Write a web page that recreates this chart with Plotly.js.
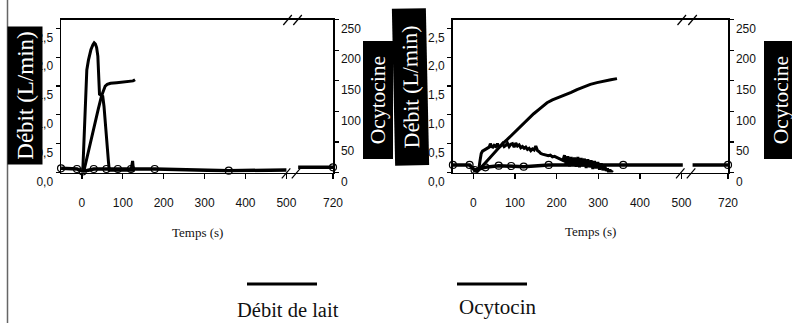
<!DOCTYPE html>
<html>
<head>
<meta charset="utf-8">
<script src="https://cdn.plot.ly/plotly-3.0.1.min.js"></script>
<style>html,body{margin:0;padding:0;background:#fff}#chart{width:792px;height:323px}</style>
</head>
<body>
<div id="chart"></div>
<script>
// ---------- DATA ----------
// Panel 1 (left)
const flow1_t = [2, 4, 7, 10, 12, 16, 22, 27, 30, 33, 36, 39, 41, 43, 47, 51, 54, 57, 60, 62, 64, 65, 67, 80, 100, 120, 124, 126, 129];
const flow1_v = [0, 0.4, 1.1, 1.6, 1.78, 1.95, 2.13, 2.22, 2.25, 2.23, 2.17, 2.02, 1.7, 1.36, 1.34, 1.32, 1.15, 0.85, 0.5, 0.3, 0.2, 0.18, 0.04, 0.04, 0.04, 0.04, 0.2, 0.04, 0.04];
const cum1_t = [4, 10, 20, 30, 40, 48, 53, 57, 62, 70, 85, 100, 115, 125, 130];
const cum1_v = [0, 0.19, 0.5, 0.8, 1.1, 1.33, 1.44, 1.5, 1.53, 1.55, 1.56, 1.57, 1.58, 1.59, 1.61];
const oxy1_t = [-51, -12, 2, 29, 60, 88, 120, 178, 359];
const oxy1_v = [6.9, 5.7, 1.6, 5.7, 5.7, 5.7, 5.7, 5.7, 3.0];
const oxy1_end_t = [500];
const oxy1_end_v = [4.0];
const oxy1_late_t = [635, 720];
const oxy1_late_v = [8.5, 8.5];

// Panel 2 (right)
const flow2_t = [0, 5, 9, 13, 16, 19, 22, 26, 30, 34, 38, 41, 44, 47, 50, 54, 58, 62, 66, 70, 74, 78, 82, 86, 90, 94, 98, 102, 106, 110, 114, 118, 122, 126, 130, 134, 138, 142, 146, 150, 154, 158, 162, 166, 170, 175, 180, 185, 190, 195, 200, 205, 210, 215, 219, 223, 227, 231, 235, 239, 243, 247, 251, 255, 259, 263, 267, 271, 275, 279, 283, 287, 291, 295, 299, 303, 307, 311, 315, 319, 322, 325, 328, 331, 334];
const flow2_v = [0.02, 0.0, 0.0, 0.05, 0.2, 0.33, 0.37, 0.39, 0.41, 0.42, 0.44, 0.5, 0.45, 0.44, 0.47, 0.45, 0.5, 0.44, 0.46, 0.5, 0.45, 0.47, 0.51, 0.45, 0.49, 0.5, 0.44, 0.51, 0.46, 0.48, 0.43, 0.45, 0.42, 0.44, 0.4, 0.42, 0.38, 0.41, 0.39, 0.46, 0.38, 0.36, 0.33, 0.32, 0.31, 0.3, 0.29, 0.3, 0.27, 0.28, 0.26, 0.24, 0.23, 0.21, 0.3, 0.12, 0.28, 0.11, 0.27, 0.12, 0.26, 0.1, 0.27, 0.09, 0.25, 0.11, 0.24, 0.08, 0.23, 0.09, 0.21, 0.06, 0.2, 0.07, 0.18, 0.05, 0.16, 0.04, 0.13, 0.03, 0.07, 0.0, 0.05, 0.0, 0.04];
const cum2_t = [5, 15, 29, 40, 49, 60, 70, 81, 95, 113, 130, 145, 160, 177, 190, 205, 217, 235, 249, 265, 281, 297, 313, 330, 345];
const cum2_v = [0, 0.06, 0.17, 0.26, 0.34, 0.42, 0.5, 0.57, 0.67, 0.8, 0.91, 1.02, 1.11, 1.21, 1.26, 1.3, 1.33, 1.39, 1.44, 1.49, 1.53, 1.56, 1.59, 1.61, 1.63];
const oxy2_t = [-49, -9, 3, 29, 61, 91, 121, 181, 360];
const oxy2_v = [12.3, 12.3, 4.1, 8.5, 11.1, 10.6, 9.5, 12.3, 12.3];
const oxy2_end_t = [503];
const oxy2_end_v = [12.3];
const oxy2_late_t = [635, 720];
const oxy2_late_v = [12.3, 12.3];

// Ticks / labels
const timeTicks = [0, 100, 200, 300, 400, 500];
const lateTicks = [720];
const flowTicks = [0, 0.5, 1.0, 1.5, 2.0, 2.5];
const oxyTicks = [0, 50, 100, 150, 200, 250];
const flowTitle = 'Débit (L/min)';
const oxyTitle = 'Ocytocine';
const timeTitle = 'Temps (s)';
const legendNames = ['Débit de lait', 'Ocytocin'];

// ---------- LAYOUT HELPERS ----------
const W = 792, H = 323;
const px = v => v / W;
const py = v => 1 - v / H;
const yDom = [py(172.5), py(19.5)];
const tickFont = {family: 'Liberation Sans Narrow, Arial Narrow, Liberation Sans, Arial', size: 12, color: '#111'};
const serif = 'Liberation Serif, Times New Roman, serif';

const lineStyle = {color: '#000', width: 3};
const oxyLine = {color: '#000', width: 3.5};
const circ = {symbol: 'circle-open', size: 7, color: '#000', line: {width: 1.2, color: '#000'}};

const traces = [
  // panel 1
  {x: cum1_t, y: cum1_v, xaxis: 'x', yaxis: 'y', mode: 'lines', line: lineStyle},
  {x: flow1_t, y: flow1_v, xaxis: 'x', yaxis: 'y', mode: 'lines', line: lineStyle},
  {x: oxy1_t.concat(oxy1_end_t), y: oxy1_v.concat(oxy1_end_v), xaxis: 'x', yaxis: 'y2', mode: 'lines', line: oxyLine},
  {x: oxy1_t, y: oxy1_v, xaxis: 'x', yaxis: 'y2', mode: 'markers', marker: circ, cliponaxis: false},
  {x: oxy1_late_t, y: oxy1_late_v, xaxis: 'x2', yaxis: 'y2', mode: 'lines', line: oxyLine},
  {x: oxy1_late_t.slice(-1), y: oxy1_late_v.slice(-1), xaxis: 'x2', yaxis: 'y2', mode: 'markers', marker: circ, cliponaxis: false},
  // panel 2
  {x: cum2_t, y: cum2_v, xaxis: 'x3', yaxis: 'y3', mode: 'lines', line: lineStyle},
  {x: flow2_t, y: flow2_v, xaxis: 'x3', yaxis: 'y3', mode: 'lines', line: lineStyle},
  {x: oxy2_t.concat(oxy2_end_t), y: oxy2_v.concat(oxy2_end_v), xaxis: 'x3', yaxis: 'y4', mode: 'lines', line: oxyLine},
  {x: oxy2_t, y: oxy2_v, xaxis: 'x3', yaxis: 'y4', mode: 'markers', marker: circ, cliponaxis: false},
  {x: oxy2_late_t, y: oxy2_late_v, xaxis: 'x4', yaxis: 'y4', mode: 'lines', line: oxyLine},
  {x: oxy2_late_t.slice(-1), y: oxy2_late_v.slice(-1), xaxis: 'x4', yaxis: 'y4', mode: 'markers', marker: circ, cliponaxis: false}
].map(t => Object.assign({hoverinfo: 'skip', showlegend: false, type: 'scatter'}, t));

const xCommon = {showgrid: false, zeroline: false, showline: true, mirror: true, linecolor: '#000', linewidth: 1.5,
  ticks: 'outside', ticklen: 5, tickwidth: 1.2, tickcolor: '#000', tickfont: tickFont, ticklabelstandoff: 14, ticklabelshift: 1.5, fixedrange: true};
const yCommon = {showgrid: false, zeroline: false, showline: true, linecolor: '#000', linewidth: 1.5,
  ticks: 'outside', ticklen: 4, tickwidth: 1.2, tickcolor: '#000', tickfont: tickFont, ticklabelshift: 9, domain: yDom, fixedrange: true};

const layout = {
  width: W, height: H,
  margin: {l: 0, r: 0, t: 0, b: 0, pad: 0},
  paper_bgcolor: '#fff', plot_bgcolor: 'rgba(0,0,0,0)',
  separators: ', ',
  showlegend: false,
  xaxis: Object.assign({}, xCommon, {domain: [px(61), px(292.5)], range: [-51.1, 514.9], anchor: 'y', tickvals: timeTicks}),
  xaxis2: Object.assign({}, xCommon, {domain: [px(292.5), px(333)], range: [621.2, 720], anchor: 'y', tickvals: lateTicks, ticklabelshift: 0}),
  xaxis3: Object.assign({}, xCommon, {domain: [px(452.7), px(687)], range: [-49.5, 513.1], anchor: 'y3', tickvals: timeTicks}),
  xaxis4: Object.assign({}, xCommon, {domain: [px(687), px(728)], range: [621.6, 720], anchor: 'y3', tickvals: lateTicks, ticklabelshift: 0}),
  yaxis: Object.assign({}, yCommon, {range: [0, 2.656], anchor: 'x', side: 'left', tickvals: flowTicks, tickformat: '.1f'}),
  yaxis2: Object.assign({}, yCommon, {range: [0, 250], anchor: 'x2', side: 'right', tickvals: oxyTicks}),
  yaxis3: Object.assign({}, yCommon, {range: [0, 2.656], anchor: 'x3', side: 'left', tickvals: flowTicks, tickformat: '.1f'}),
  yaxis4: Object.assign({}, yCommon, {range: [0, 250], anchor: 'x4', side: 'right', tickvals: oxyTicks}),
  shapes: [],
  annotations: []
};

// axis-break marks "//"
function breakMarks(xA, xB) {
  [[xA, xA + 8.5], [xB, xB + 8.5]].forEach(([a, b]) => {
    layout.shapes.push({type: 'line', xref: 'paper', yref: 'paper', x0: px(a), x1: px(b), y0: py(25), y1: py(15), line: {color: '#000', width: 1.2}});
    layout.shapes.push({type: 'line', xref: 'paper', yref: 'paper', x0: px(a - 1.5), x1: px(b - 1.5), y0: py(178.3), y1: py(168.3), line: {color: '#000', width: 1.2}});
  });
}
breakMarks(283.3, 293.3);
breakMarks(677.5, 688.3);

// left page rule
layout.shapes.push({type: 'line', xref: 'paper', yref: 'paper', x0: px(7.5), x1: px(7.5), y0: 0, y1: 1, line: {color: '#666', width: 1.5}});
// legend lines
layout.shapes.push({type: 'line', xref: 'paper', yref: 'paper', x0: px(247), x1: px(317), y0: py(284), y1: py(284), line: {color: '#000', width: 3}});
layout.shapes.push({type: 'line', xref: 'paper', yref: 'paper', x0: px(457), x1: px(527), y0: py(284), y1: py(284), line: {color: '#000', width: 3}});

// axis titles as black boxes
function boxTitle(text, cx, cy, len, thick, size, angle) {
  layout.annotations.push({text: text, xref: 'paper', yref: 'paper', x: px(cx), y: py(cy), xanchor: 'center', yanchor: 'middle',
    showarrow: false, textangle: angle, bgcolor: '#000', borderpad: 0, borderwidth: 0, width: len, height: thick,
    font: {family: serif, size: size, color: '#fff'}});
}
boxTitle(flowTitle, 24.5, 96, 138, 35, 23, -90);
boxTitle(oxyTitle, 378, 100, 118, 30, 21.5, -90);
boxTitle(flowTitle, 410, 86.5, 157, 34, 22, -91.2);
boxTitle(oxyTitle, 781, 100, 118, 34, 21.5, -90);

// x titles
[[197, 232], [590, 231]].forEach(([cx, cy]) => {
  layout.annotations.push({text: timeTitle, xref: 'paper', yref: 'paper', x: px(cx), y: py(cy), xanchor: 'center', yanchor: 'middle',
    showarrow: false, font: {family: serif, size: 13, color: '#111'}});
});
// legend labels
layout.annotations.push({text: legendNames[0], xref: 'paper', yref: 'paper', x: px(287.5), y: py(309.5), xanchor: 'center', yanchor: 'middle',
  showarrow: false, font: {family: serif, size: 20.5, color: '#111'}});
layout.annotations.push({text: legendNames[1], xref: 'paper', yref: 'paper', x: px(497.5), y: py(307), xanchor: 'center', yanchor: 'middle',
  showarrow: false, font: {family: serif, size: 21, color: '#111'}});

Plotly.newPlot('chart', traces, layout, {staticPlot: true, displayModeBar: false});
</script>
</body>
</html>
